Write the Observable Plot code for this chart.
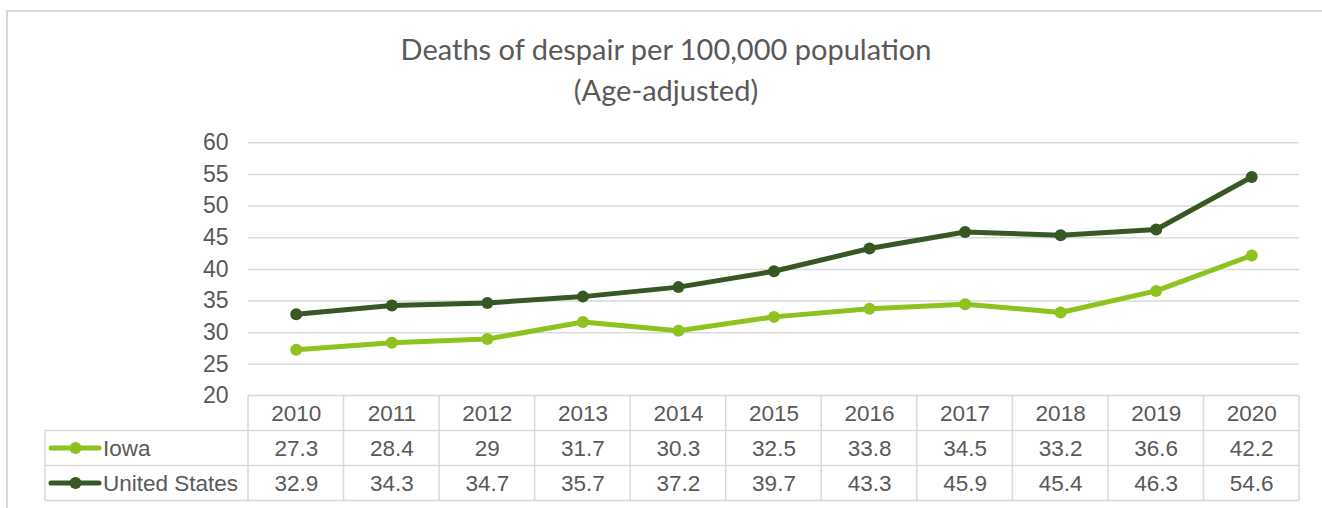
<!DOCTYPE html>
<html><head><meta charset="utf-8">
<script src="https://cdn.jsdelivr.net/npm/d3@7"></script>
<script src="https://cdn.jsdelivr.net/npm/@observablehq/plot@0.6"></script>
<style>
body{margin:0;background:#fff;}
#wrap{position:relative;width:1322px;height:508px;overflow:hidden;}
#frame{position:absolute;left:6px;top:10px;width:1330px;height:520px;border-top:2px solid #d9d9d9;border-left:2px solid #d9d9d9;}
#chart{position:absolute;left:0;top:0;}
</style></head><body><div id="wrap"><div id="frame"></div><div id="chart"></div></div>
<script>
const years = [2010, 2011, 2012, 2013, 2014, 2015, 2016, 2017, 2018, 2019, 2020];
const iowa = [27.3, 28.4, 29, 31.7, 30.3, 32.5, 33.8, 34.5, 33.2, 36.6, 42.2];
const unitedStates = [32.9, 34.3, 34.7, 35.7, 37.2, 39.7, 43.3, 45.9, 45.4, 46.3, 54.6];
const seriesNames = ["Iowa", "United States"];
const seriesColors = ["#8DC21F", "#385723"];
const yTicks = [20, 25, 30, 35, 40, 45, 50, 55, 60];
const titleLines = ["Deaths of despair per 100,000 population", "(Age-adjusted)"];

const seriesValues = [iowa, unitedStates];
const rows = [];
seriesNames.forEach((s, k) => years.forEach((yr, i) => rows.push({series: s, year: yr, value: seriesValues[k][i]})));

const textColor = "#595959";
const gridColor = "#d9d9d9";
const tableFont = "'Liberation Sans', Arial, sans-serif";
const tableLeft = 45;
const tableTop = 395.5;
const rowH = 35;
const tableFontSize = 22.5;

function tableGrid(index, scales, values, dims) {
  const g = d3.create("svg:g");
  const x = scales.x;
  const xl = x(years[0] - 0.5), xr = x(years[years.length - 1] + 0.5);
  const bottom = tableTop + rowH * 3;
  const hl = [[xl, tableTop], [tableLeft, tableTop + rowH], [tableLeft, tableTop + 2 * rowH], [tableLeft, bottom]];
  hl.forEach(([x0, y0]) => g.append("line").attr("x1", x0).attr("x2", xr).attr("y1", y0).attr("y2", y0)
    .attr("stroke", gridColor).attr("stroke-width", 1.5));
  const bounds = years.map(y => y - 0.5).concat([years[years.length - 1] + 0.5]);
  bounds.forEach(b => g.append("line").attr("x1", x(b)).attr("x2", x(b)).attr("y1", tableTop).attr("y2", bottom)
    .attr("stroke", gridColor).attr("stroke-width", 1.5));
  g.append("line").attr("x1", tableLeft).attr("x2", tableLeft).attr("y1", tableTop + rowH).attr("y2", bottom)
    .attr("stroke", gridColor).attr("stroke-width", 1.5);
  // legend keys
  seriesNames.forEach((s, k) => {
    const cy = tableTop + rowH * (k + 1.5);
    const c = scales.color(s);
    g.append("line").attr("x1", 51).attr("x2", 99).attr("y1", cy).attr("y2", cy)
      .attr("stroke", c).attr("stroke-width", 5).attr("stroke-linecap", "round");
    g.append("circle").attr("cx", 75.5).attr("cy", cy).attr("r", 6).attr("fill", c);
    g.append("text").attr("x", 103).attr("y", cy).attr("dy", "0.35em").attr("text-anchor", "start")
      .attr("fill", textColor).attr("font-size", tableFontSize).attr("font-family", tableFont).text(s);
  });
  // title
  titleLines.forEach((t, k) => {
    g.append("text").attr("x", 666).attr("y", 60 + k * 41).attr("text-anchor", "middle")
      .attr("fill", textColor).attr("font-size", 29).attr("font-family", "Lato, 'Open Sans', sans-serif")
      .text(t);
  });
  return g.node();
}

const fmt = v => String(v);
const cellText = (dy) => ({x: d => d, frameAnchor: "bottom", lineAnchor: "middle", dy, fontSize: tableFontSize, fill: textColor});

const chart = Plot.plot({
  width: 1322,
  height: 508,
  marginLeft: 248,
  marginRight: 23,
  marginTop: 142,
  marginBottom: 112.5,
  style: {fontFamily: tableFont, color: textColor, background: "transparent", overflow: "visible"},
  x: {type: "linear", domain: [years[0] - 0.5, years[years.length - 1] + 0.5], axis: null},
  y: {domain: [20, 60], range: [395.5, 142.3], axis: null},
  color: {domain: seriesNames, range: seriesColors},
  marks: [
    Plot.gridY(yTicks.filter(t => t > 20), {stroke: gridColor, strokeOpacity: 1, strokeWidth: 1.5}),
    Plot.axisY(yTicks, {tickSize: 0, tickPadding: 20, fontSize: 23, fill: textColor, label: null}),
    tableGrid,
    Plot.line(rows, {x: "year", y: "value", z: "series", stroke: "series", strokeWidth: 5, strokeLinejoin: "round"}),
    Plot.dot(rows, {x: "year", y: "value", fill: "series", r: 6}),
    Plot.text(years, {...cellText(17.5), text: d => String(d)}),
    Plot.text(years, {...cellText(17.5 + rowH), text: (d, i) => fmt(iowa[i])}),
    Plot.text(years, {...cellText(17.5 + 2 * rowH), text: (d, i) => fmt(unitedStates[i])})
  ]
});
document.getElementById("chart").appendChild(chart);
</script>
</body></html>
